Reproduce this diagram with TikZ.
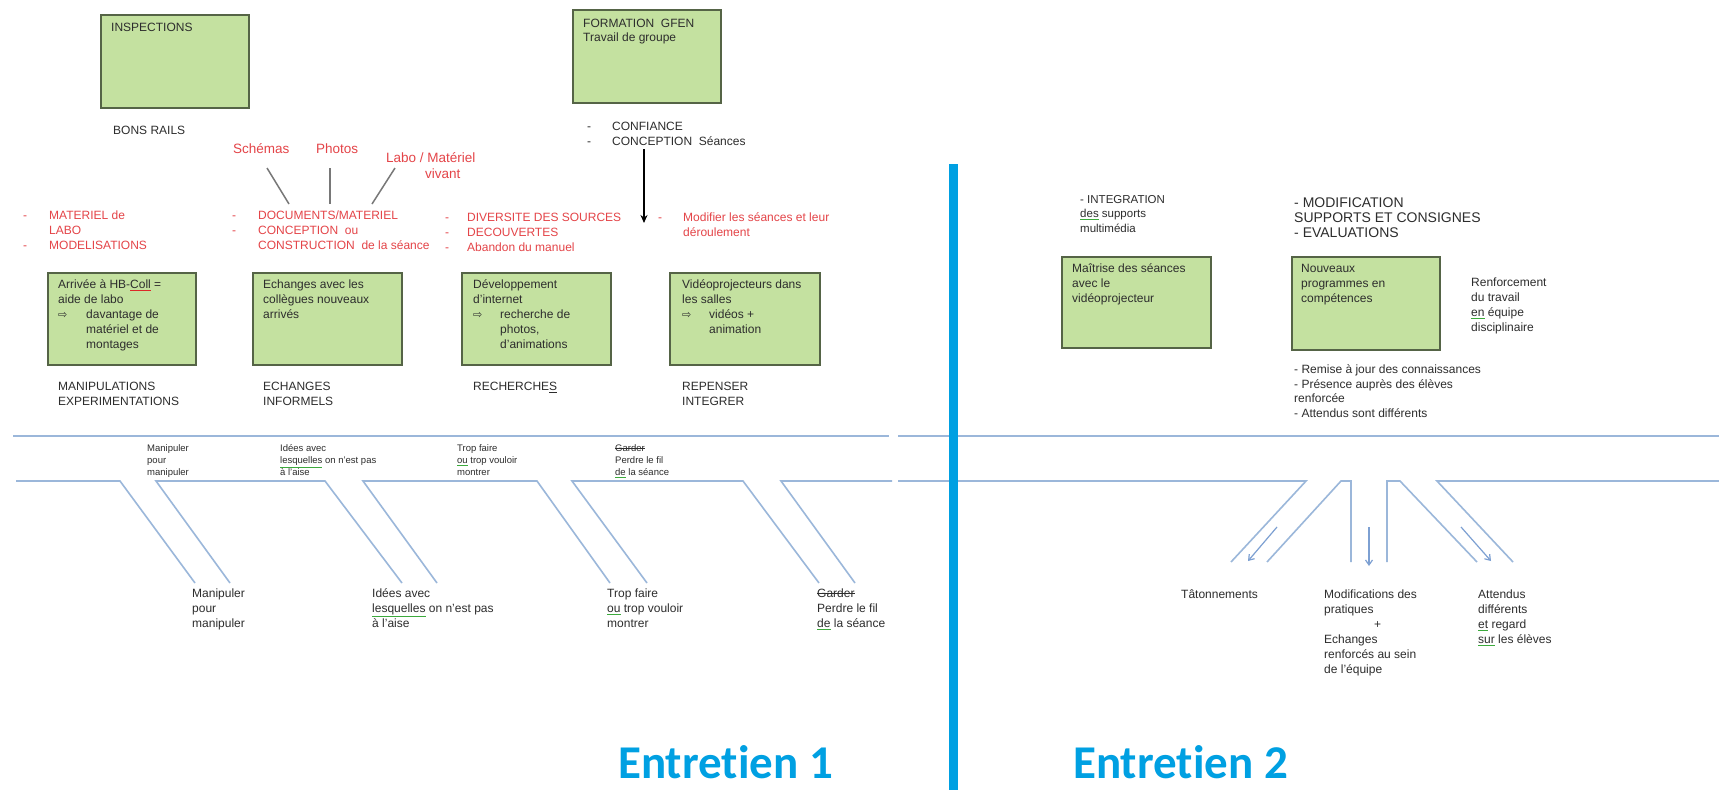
\documentclass[tikz,border=0pt]{standalone}
\usepackage{fontspec}
\setmainfont{Liberation Sans}
\newfontfamily\carl[Ligatures={NoCommon}]{Carlito}
\newfontfamily\dejavu{DejaVu Sans}
\usetikzlibrary{arrows.meta}
\definecolor{boxgreen}{RGB}{196,225,160}
\definecolor{boxborder}{RGB}{85,100,70}
\definecolor{tgray}{RGB}{45,45,45}
\definecolor{tred}{RGB}{228,68,72}
\definecolor{fishblue}{RGB}{155,183,218}
\definecolor{arrblue}{RGB}{125,160,210}
\definecolor{divblue}{RGB}{0,160,226}
\definecolor{ulgreen}{RGB}{60,170,60}
\definecolor{ulred}{RGB}{220,40,40}
\definecolor{linegray}{RGB}{120,120,120}
\newcommand\arr{{\dejavu\fontsize{11}{15}\selectfont ⇨}}
\newcommand\gul[1]{{\color{ulgreen}\underline{\color{tgray}#1}}}
\newcommand\rul[1]{{\color{ulred}\underline{\color{tgray}#1}}}
\newcommand\strk[1]{\setbox0=\hbox{#1}\rlap{\rule[0.3em]{\wd0}{0.08em}}\box0}
\tikzset{
  gbox/.style={draw=boxborder, fill=boxgreen, line width=1.5pt, anchor=north west, inner sep=0pt},
  tbase/.style={inner sep=0pt, anchor=north west, align=left, text=tgray},
  txt/.style={tbase, font=\fontsize{12}{15}\selectfont, yshift=6.2pt},
  rtxt/.style={txt, text=tred},
  bigred/.style={tbase, text=tred, font=\fontsize{13.5}{16}\selectfont, yshift=6.4pt},
  stxt/.style={tbase, font=\fontsize{9.5}{12}\selectfont, yshift=5pt},
  mtxt/.style={tbase, font=\fontsize{11.5}{14.5}\selectfont, yshift=6pt},
  ltxt/.style={tbase, font=\fontsize{14}{15}\selectfont, yshift=5.5pt},
  fish/.style={draw=fishblue, line width=1.6pt},
  fisharr/.style={draw=arrblue, line width=1.2pt, -{Straight Barb[length=5pt,width=7pt]}},
  glink/.style={draw=linegray, line width=1.5pt},
  etitle/.style={inner sep=0pt, anchor=base west, text=divblue, font=\carl\bfseries\fontsize{47}{50}\selectfont}
}
\begin{document}
\begin{tikzpicture}[x=1pt,y=-1pt]
\useasboundingbox (0,0) rectangle (1719,790);
\fill[white] (0,0) rectangle (1719,790);

% ---------- top boxes ----------
\node[gbox, minimum width=148pt, minimum height=93pt] (binsp) at (100,14) {};
\node[txt] (tinsp) at (111,27) {\strut INSPECTIONS};
\node[txt] (bons) at (113,130) {\strut BONS RAILS};

\node[gbox, minimum width=148pt, minimum height=93pt] (bgfen) at (572,9) {};
\node[tbase, font=\fontsize{12}{14}\selectfont, yshift=5.5pt] (tgfen) at (583,23) {\strut FORMATION\ \ GFEN\\Travail de groupe};

\node[txt] (confd) at (587,126) {\strut -\\-};
\node[txt] (conf) at (612,126) {\strut CONFIANCE\\CONCEPTION\ \ Séances};
\coordinate (aS) at (644,149);
\coordinate (aE) at (644,223);
\draw[line width=2pt, -{Stealth[length=8pt,width=7pt]}] (aS) -- (aE);

% ---------- red keywords ----------
\node[bigred] (schem) at (233,148) {\strut Schémas};
\node[bigred] (phot) at (316,148) {\strut Photos};
\node[bigred] (labo) at (386,157) {\strut Labo / Matériel\\\hspace*{39pt}vivant};
\coordinate (l1a) at (267,168); \coordinate (l1b) at (289,204);
\coordinate (l2a) at (330,168); \coordinate (l2b) at (330,204);
\coordinate (l3a) at (395,168); \coordinate (l3b) at (372,204);
\draw[glink] (l1a) -- (l1b);
\draw[glink] (l2a) -- (l2b);
\draw[glink] (l3a) -- (l3b);

\node[rtxt] (d1) at (23,215) {\strut -\\\mbox{}\\-};
\node[rtxt] (mat) at (49,215) {\strut MATERIEL de\\LABO\\MODELISATIONS};
\node[rtxt] (d2) at (232,215) {\strut -\\-};
\node[rtxt] (docs) at (258,215) {\strut DOCUMENTS/MATERIEL\\CONCEPTION\ \ ou\\CONSTRUCTION\ \ de la séance};
\node[rtxt] (d3) at (445,217) {\strut -\\-\\-};
\node[rtxt] (div) at (467,217) {\strut DIVERSITE DES SOURCES\\DECOUVERTES\\Abandon du manuel};
\node[rtxt] (d4) at (658,217) {\strut -};
\node[rtxt] (modif) at (683,217) {\strut Modifier les séances et leur\\déroulement};

% ---------- row of boxes (entretien 1) ----------
\node[gbox, minimum width=148pt, minimum height=92pt] (b1) at (47,272) {};
\node[gbox, minimum width=149pt, minimum height=92pt] (b2) at (252,272) {};
\node[gbox, minimum width=149pt, minimum height=92pt] (b3) at (461,272) {};
\node[gbox, minimum width=150pt, minimum height=92pt] (b4) at (669,272) {};
\node[txt] (t1) at (58,284) {\strut Arrivée à HB-\rul{Coll} =\\aide de labo\\\makebox[28pt][l]{\arr}davantage de\\\hspace*{28pt}matériel et de\\\hspace*{28pt}montages};
\node[txt] (t2) at (263,284) {\strut Echanges avec les\\collègues nouveaux\\arrivés};
\node[txt] (t3) at (473,284) {\strut Développement\\d'internet\\\makebox[27pt][l]{\arr}recherche de\\\hspace*{27pt}photos,\\\hspace*{27pt}d'animations};
\node[txt] (t4) at (682,284) {\strut Vidéoprojecteurs dans\\les salles\\\makebox[27pt][l]{\arr}vidéos +\\\hspace*{27pt}animation};

\node[txt] (lab1) at (58,386) {\strut MANIPULATIONS\\EXPERIMENTATIONS};
\node[txt] (lab2) at (263,386) {\strut ECHANGES\\INFORMELS};
\node[txt] (lab3) at (473,386) {\strut RECHERCHE\underline{S}};
\node[txt] (lab4) at (682,386) {\strut REPENSER\\INTEGRER};

% ---------- fishbone ----------
\draw[fish] (13,436) -- (889,436);
\draw[fish] (898,436) -- (1719,436);
\draw[fish] (16,481) -- (120,481) -- (195,583);
\draw[fish] (230,583) -- (156,481) -- (325,481) -- (402,583);
\draw[fish] (437,583) -- (363,481) -- (537,481) -- (610,583);
\draw[fish] (647,583) -- (572,481) -- (743,481) -- (819,583);
\draw[fish] (855,583) -- (781,481) -- (892,481);
\draw[fish] (898,481) -- (1306,481) -- (1231,562);
\draw[fish] (1267,562) -- (1341,481) -- (1351,481) -- (1351,562);
\draw[fish] (1387,562) -- (1387,481) -- (1400,481) -- (1477,562);
\draw[fish] (1513,562) -- (1437,481) -- (1719,481);
\coordinate (r1a) at (1277,527); \coordinate (r1b) at (1248,561);
\coordinate (r2a) at (1369,527); \coordinate (r2b) at (1369,566);
\coordinate (r3a) at (1461,527); \coordinate (r3b) at (1491,561);
\draw[fisharr] (r1a) -- (r1b);
\draw[fisharr] (r2a) -- (r2b);
\draw[fisharr] (r3a) -- (r3b);

\node[stxt] (s1) at (147,448) {\strut Manipuler\\pour\\manipuler};
\node[stxt] (s2) at (280,448) {\strut Idées avec\\\gul{lesquelles} on n'est pas\\à l'aise};
\node[stxt] (s3) at (457,448) {\strut Trop faire\\\gul{ou} trop vouloir\\montrer};
\node[stxt] (s4) at (615,448) {\strut\strk{Garder}\\Perdre le fil\\\gul{de} la séance};

\node[txt] (g1) at (192,593) {\strut Manipuler\\pour\\manipuler};
\node[txt] (g2) at (372,593) {\strut Idées avec\\\gul{lesquelles} on n'est pas\\à l'aise};
\node[txt] (g3) at (607,593) {\strut Trop faire\\\gul{ou} trop vouloir\\montrer};
\node[txt] (g4) at (817,593) {\strut\strk{Garder}\\Perdre le fil\\\gul{de} la séance};

% ---------- divider ----------
\fill[divblue] (949,164) rectangle (958,790);

% ---------- entretien 2 ----------
\node[mtxt] (integ) at (1080,199) {\strut - INTEGRATION\\\gul{des} supports\\multimédia};
\node[ltxt] (modi) at (1294,202) {\strut - MODIFICATION\\SUPPORTS ET CONSIGNES\\- EVALUATIONS};
\node[gbox, minimum width=149pt, minimum height=91pt] (bm) at (1061,256) {};
\node[gbox, minimum width=148pt, minimum height=93pt] (bn) at (1291,256) {};
\node[txt] (tm) at (1072,268) {\strut Maîtrise des séances\\avec le\\vidéoprojecteur};
\node[txt] (tn) at (1301,268) {\strut Nouveaux\\programmes en\\compétences};
\node[txt] (renf) at (1471,282) {\strut Renforcement\\du travail\\\gul{en} équipe\\disciplinaire};
\node[tbase, font=\fontsize{12}{14.7}\selectfont, yshift=6pt] (remise) at (1294,369) {\strut - Remise à jour des connaissances\\- Présence auprès des élèves\\renforcée\\- Attendus sont différents};

\node[txt] (tat) at (1181,594) {\strut Tâtonnements};
\node[txt] (modp) at (1324,594) {\strut Modifications des\\pratiques\\\hspace*{50pt}+\\Echanges\\renforcés au sein\\de l'équipe};
\node[txt] (att) at (1478,594) {\strut Attendus\\différents\\\gul{et} regard\\\gul{sur} les élèves};

% ---------- titles ----------
\node[etitle] (e1) at (618,778) {Entretien 1};
\node[etitle] (e2) at (1073,778) {Entretien 2};
\end{tikzpicture}
\end{document}
